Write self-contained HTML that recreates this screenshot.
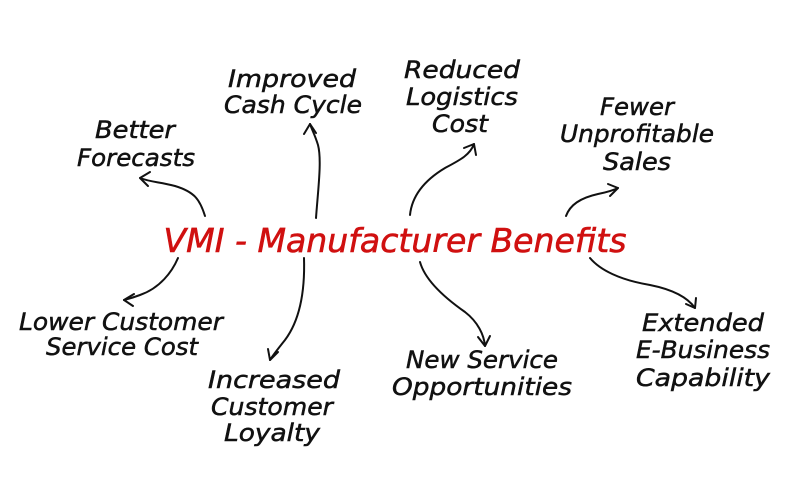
<!DOCTYPE html>
<html><head><meta charset="utf-8"><style>
html,body{margin:0;padding:0;background:#fff;}
svg{display:block}
text{font-family:"DejaVu Sans","Liberation Sans",sans-serif;font-style:oblique;fill:#111;stroke:#111;stroke-width:0.5;font-size:24px;text-anchor:middle}
.t{fill:#d01010;stroke:#d01010;stroke-width:0.6;font-size:33px}
path{fill:none;stroke:#111;stroke-width:2;stroke-linecap:round;stroke-linejoin:round}
</style></head><body>
<svg width="800" height="499" viewBox="0 0 800 499">
<rect width="800" height="499" fill="#fff"/>
<text class="t" x="395" y="252" textLength="463" lengthAdjust="spacingAndGlyphs">VMI - Manufacturer Benefits</text>

<text x="135" y="138" textLength="80" lengthAdjust="spacingAndGlyphs">Better</text>
<text x="136" y="166" textLength="118" lengthAdjust="spacingAndGlyphs">Forecasts</text>

<text x="292" y="87" textLength="128" lengthAdjust="spacingAndGlyphs">Improved</text>
<text x="293" y="113" textLength="138" lengthAdjust="spacingAndGlyphs">Cash Cycle</text>

<text x="462" y="78" textLength="116" lengthAdjust="spacingAndGlyphs">Reduced</text>
<text x="462" y="105" textLength="112" lengthAdjust="spacingAndGlyphs">Logistics</text>
<text x="460" y="132" textLength="56" lengthAdjust="spacingAndGlyphs">Cost</text>

<text x="637" y="115" textLength="74" lengthAdjust="spacingAndGlyphs">Fewer</text>
<text x="637" y="142" textLength="154" lengthAdjust="spacingAndGlyphs">Unprofitable</text>
<text x="637" y="170" textLength="68" lengthAdjust="spacingAndGlyphs">Sales</text>

<text x="121" y="330" textLength="204" lengthAdjust="spacingAndGlyphs">Lower Customer</text>
<text x="122" y="355" textLength="152" lengthAdjust="spacingAndGlyphs">Service Cost</text>

<text x="274" y="388" textLength="132" lengthAdjust="spacingAndGlyphs">Increased</text>
<text x="272" y="415" textLength="122" lengthAdjust="spacingAndGlyphs">Customer</text>
<text x="272" y="441" textLength="96" lengthAdjust="spacingAndGlyphs">Loyalty</text>

<text x="482" y="368" textLength="152" lengthAdjust="spacingAndGlyphs">New Service</text>
<text x="482" y="395" textLength="180" lengthAdjust="spacingAndGlyphs">Opportunities</text>

<text x="703" y="331" textLength="122" lengthAdjust="spacingAndGlyphs">Extended</text>
<text x="703" y="358" textLength="134" lengthAdjust="spacingAndGlyphs">E-Business</text>
<text x="703" y="386" textLength="134" lengthAdjust="spacingAndGlyphs">Capability</text>

<path d="M205,216 C200,200 195,192 175,186 C160,182 150,182 140,178"/>
<path d="M140,178 L150,172 M140,178 L148,186"/>

<path d="M316,218 C318,190 322,160 318,145 C315,135 312,130 310,124"/>
<path d="M310,124 L304,134 M310,124 L316,133"/>

<path d="M410,215 C412,195 425,180 445,168 C460,160 470,155 474,144"/>
<path d="M474,144 L464,148 M474,144 L476,155"/>

<path d="M566,216 C570,205 580,198 598,194 C608,192 614,190 618,188"/>
<path d="M618,188 L608,184 M618,188 L610,196"/>

<path d="M178,258 C172,272 160,288 140,295 C132,298 128,299 124,300"/>
<path d="M124,300 L134,294 M124,300 L133,306"/>

<path d="M304,258 C305,290 300,320 285,340 C277,350 273,355 270,360"/>
<path d="M270,360 L268,349 M270,360 L278,352"/>

<path d="M420,262 C425,280 445,298 465,312 C478,322 484,335 485,346"/>
<path d="M485,346 L478,337 M485,346 L490,336"/>

<path d="M590,258 C600,270 620,280 650,285 C675,290 688,298 695,308"/>
<path d="M695,308 L686,304 M695,308 L696,298"/>
</svg>
</body></html>
